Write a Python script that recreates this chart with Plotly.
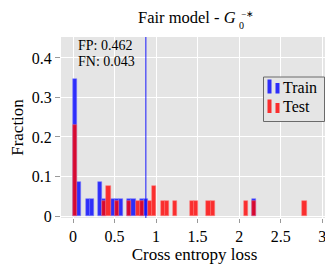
import plotly.graph_objects as go

# ---- data ----
bin_width = 0.0502          # histogram bin width (loss units)
n_train = 23
n_test = 26

train_bins = [0, 1, 3, 4, 6, 7, 9, 10, 11, 13, 14, 16, 17, 43]
train_counts = [8, 2, 1, 1, 2, 1, 1, 1, 1, 1, 1, 1, 1, 1]

test_bins = [0, 7, 8, 10, 13, 15, 16, 18, 19, 21, 22, 24, 28, 29, 32, 33, 41, 43, 55]
test_counts = [6, 1, 2, 1, 1, 1, 1, 1, 2, 1, 1, 1, 1, 1, 1, 1, 1, 1, 1]

threshold = 0.876
fp_rate = 0.462
fn_rate = 0.043

series_names = ["Train", "Test"]
x_ticks = [0, 0.5, 1, 1.5, 2, 2.5, 3]
x_ticklabels = ["0", "0.5", "1", "1.5", "2", "2.5", "3"]
y_ticks = [0, 0.1, 0.2, 0.3, 0.4]
y_ticklabels = ["0", "0.1", "0.2", "0.3", "0.4"]

# ---- derived ----
train_x = [(b + 0.5) * bin_width for b in train_bins]
train_y = [c / n_train for c in train_counts]
test_x = [(b + 0.5) * bin_width for b in test_bins]
test_y = [c / n_test for c in test_counts]

FONT = "Liberation Serif"
BLUE = "rgba(0,0,255,0.8)"
RED = "rgba(255,0,0,0.8)"

fig = go.Figure()
fig.add_trace(go.Bar(
    x=train_x, y=train_y, width=bin_width, name=series_names[0], showlegend=False,
    marker=dict(color=BLUE, line=dict(color="rgba(120,120,255,0.8)", width=0.6)),
))
fig.add_trace(go.Bar(
    x=test_x, y=test_y, width=bin_width, name=series_names[1], showlegend=False,
    marker=dict(color=RED, line=dict(color="rgba(255,120,120,0.8)", width=0.6)),
))

fig.add_shape(type="line", xref="x", yref="paper", x0=threshold, x1=threshold, y0=0, y1=1,
              line=dict(color="rgba(0,0,255,0.6)", width=1.5))

# page body has an 8px default margin: shift the whole layout by -8px
OFF = 8
W, H = 333 - OFF, 266 - OFF
L, R, T, B = 61 - OFF, 5, 37 - OFF, 48
pw, ph = W - L - R, H - T - B

def px(xp):
    return (xp - OFF - L) / pw

def py(yp):
    return (H - B - (yp - OFF)) / ph

# title (LaTeX-like G_0^{-*})
fig.add_annotation(text="Fair model - <i>G</i>", xref="paper", yref="paper",
                   x=px(237.5), y=py(17.5), xanchor="right", yanchor="middle",
                   showarrow=False, font=dict(family=FONT, size=16.5, color="black"))
fig.add_annotation(text="0", xref="paper", yref="paper",
                   x=px(237), y=py(25.5), xanchor="left", yanchor="middle",
                   showarrow=False, font=dict(family=FONT, size=10, color="black"))
fig.add_annotation(text="−∗", xref="paper", yref="paper",
                   x=px(238.5), y=py(13.5), xanchor="left", yanchor="middle",
                   showarrow=False, font=dict(family=FONT, size=9, color="black"))

fig.add_annotation(text=f"FP: {fp_rate:.3f}", xref="paper", yref="paper",
                   x=px(76), y=py(45), xanchor="left", yanchor="middle",
                   showarrow=False, font=dict(family=FONT, size=14, color="black"))
fig.add_annotation(text=f"FN: {fn_rate:.3f}", xref="paper", yref="paper",
                   x=px(76), y=py(61), xanchor="left", yanchor="middle",
                   showarrow=False, font=dict(family=FONT, size=14, color="black"))

# custom legend (box, two-bar symbols, labels)
fig.add_shape(type="rect", xref="paper", yref="paper",
              x0=px(263.5), x1=px(324.5), y0=py(121.5), y1=py(77),
              line=dict(color="#6a6a6a", width=1), fillcolor="#e5e5e5", layer="above")
for (row_top, row_bot, col, name) in [(79.5, 93.5, BLUE, series_names[0]),
                                      (99.5, 113, RED, series_names[1])]:
    fig.add_shape(type="rect", xref="paper", yref="paper",
                  x0=px(267.5), x1=px(271.5), y0=py(row_bot), y1=py(row_top),
                  line=dict(width=0), fillcolor=col, layer="above")
    fig.add_shape(type="rect", xref="paper", yref="paper",
                  x0=px(275.5), x1=px(279.5), y0=py(row_bot), y1=py(row_top + 3.5),
                  line=dict(width=0), fillcolor=col, layer="above")
    fig.add_annotation(text=name, xref="paper", yref="paper",
                       x=px(280.5), y=py((row_top + row_bot) / 2 + 0.5),
                       xanchor="left", yanchor="middle", showarrow=False,
                       font=dict(family=FONT, size=16, color="black"))

fig.update_layout(
    width=W, height=H,
    margin=dict(l=L, r=R, t=T, b=B, pad=0, autoexpand=False),
    barmode="overlay",
    bargap=0,
    paper_bgcolor="white",
    plot_bgcolor="#e5e5e5",
    font=dict(family=FONT, size=16, color="black"),
    showlegend=False,
    xaxis=dict(range=[-0.145, 3.07], tickvals=x_ticks, ticktext=x_ticklabels,
               showgrid=True, gridcolor="white", gridwidth=1, zeroline=False,
               ticks="outside", ticklen=4, tickcolor="#999999", automargin=False,
               title=dict(text="Cross entropy loss", font=dict(family=FONT, size=17), standoff=2),
               tickfont=dict(family=FONT, size=16)),
    yaxis=dict(range=[-0.005, 0.453], tickvals=y_ticks, ticktext=y_ticklabels,
               showgrid=True, gridcolor="white", gridwidth=1, zeroline=False,
               ticks="outside", ticklen=5, tickcolor="#999999", automargin=False,
               title=dict(text="Fraction", font=dict(family=FONT, size=17), standoff=6),
               tickfont=dict(family=FONT, size=16)),
)

fig.write_html("out.html")
